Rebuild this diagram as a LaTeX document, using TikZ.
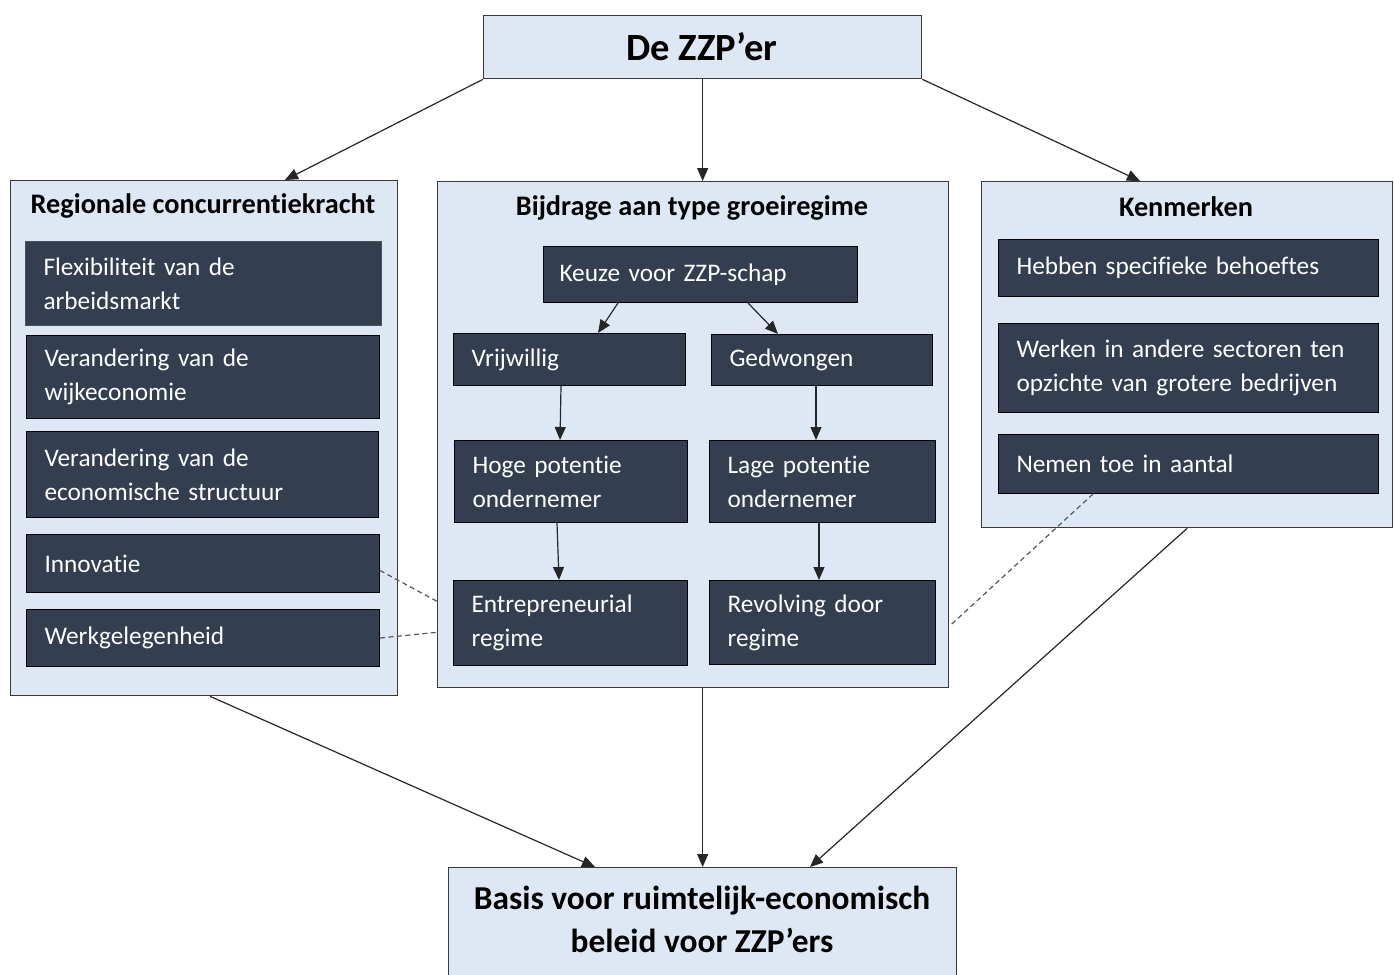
\documentclass[tikz,border=0pt]{standalone}
\usepackage{fontspec}
\setmainfont{Carlito}[Ligatures=NoCommon]
\usetikzlibrary{arrows.meta,calc}
\definecolor{lightc}{HTML}{DEE8F4}
\definecolor{darkc}{HTML}{333F50}
\definecolor{edgec}{HTML}{3A3A3A}
\definecolor{dashc}{HTML}{555555}
\begin{document}
\begin{tikzpicture}[x=1pt,y=-1pt,
 container/.style={draw=edgec, fill=lightc, line width=1.3pt, anchor=north west, inner sep=0pt},
 head/.style={font=\fontsize{28.3}{32}\selectfont\bfseries, inner sep=0pt},
 dark/.style={draw=black, fill=darkc, text=white, align=left, anchor=north west,
   inner xsep=18pt, inner ysep=0pt, line width=1pt, font=\fontsize{25.3}{34}\selectfont},
 conn/.style={draw=black!85, line width=1.2pt, -{Triangle[length=13pt,width=11pt]}},
 dconn/.style={draw=dashc, line width=1.2pt, dash pattern=on 5pt off 3.5pt}
]
\useasboundingbox (0,0) rectangle (1394,974);

% top and bottom boxes
\node[container, minimum width=438pt, minimum height=63pt] (top) at (483,15) {};
\node[font=\fontsize{38.5}{44}\selectfont\bfseries] (toptxt) at (702,47) {De ZZP’er};
\node[container, minimum width=508pt, minimum height=112pt] (bottom) at (448,867) {};
\node[align=center, font=\fontsize{33.4}{43}\selectfont\bfseries] (bottxt) at (702,919)
  {Basis voor ruimtelijk-economisch\\beleid voor ZZP’ers};

% containers
\node[container, minimum width=387pt, minimum height=515pt] (left) at (10,180) {};
\node[container, minimum width=511pt, minimum height=506pt] (mid) at (437,181) {};
\node[container, minimum width=411pt, minimum height=346pt] (right) at (981,181) {};
\node[head] (lefth) at (203,206) {Regionale concurrentiekracht};
\node[head] (midh) at (692,208) {Bijdrage aan type groeiregime};
\node[head] (righth) at (1186,207) {Kenmerken};

% left column
\node[dark, draw=darkc!90!white, text width=320pt, minimum height=84pt] (flex) at (25,241) {Flexibiliteit van de\\arbeidsmarkt};
\node[dark, text width=317pt, minimum height=83pt] (wijk) at (26,335) {Verandering van de\\wijkeconomie};
\node[dark, text width=316pt, minimum height=86pt] (econ) at (26,431) {Verandering van de\\economische structuur};
\node[dark, text width=317pt, minimum height=58pt] (innov) at (26,534) {Innovatie};
\node[dark, text width=317pt, minimum height=57pt] (werk) at (26,609) {Werkgelegenheid};

% middle column
\node[dark, inner xsep=16pt, text width=282pt, minimum height=56pt] (keuze) at (543,246) {Keuze voor ZZP-schap};
\node[dark, text width=196pt, minimum height=52pt] (vrij) at (453,333) {Vrijwillig};
\node[dark, text width=185pt, minimum height=51pt] (ged) at (711,334) {Gedwongen};
\node[dark, text width=197pt, minimum height=82pt] (hoge) at (454,440) {Hoge potentie\\ondernemer};
\node[dark, text width=190pt, minimum height=82pt] (lage) at (709,440) {Lage potentie\\ondernemer};
\node[dark, text width=198pt, minimum height=85pt] (entre) at (453,580) {Entrepreneurial\\regime};
\node[dark, text width=190pt, minimum height=84pt] (rev) at (709,580) {Revolving door\\regime};

% right column
\node[dark, text width=344pt, minimum height=57pt] (hebben) at (998,239) {Hebben specifieke behoeftes};
\node[dark, text width=344pt, minimum height=89pt] (werken) at (998,323) {Werken in andere sectoren ten\\opzichte van grotere bedrijven};
\node[dark, text width=344pt, minimum height=59pt] (nemen) at (998,434) {Nemen toe in aantal};

% connectors from top
\draw[conn] (top.south west) -- ([xshift=275pt]left.north west);
\draw[conn] (top.south) -- (top.south |- mid.north);
\draw[conn] (top.south east) -- ([xshift=159pt]right.north west);

% inner connectors
\draw[conn] ([xshift=75pt]keuze.south west) -- ([xshift=145pt]vrij.north west);
\draw[conn] ([xshift=205pt]keuze.south west) -- ([xshift=67pt]ged.north west);
\draw[conn] ([xshift=108pt]vrij.south west) -- ([xshift=106pt]hoge.north west);
\draw[conn] ([xshift=105pt]ged.south west) -- ([xshift=107pt]lage.north west);
\draw[conn] ([xshift=103pt]hoge.south west) -- ([xshift=106pt]entre.north west);
\draw[conn] ([xshift=110pt]lage.south west) -- ([xshift=110pt]rev.north west);

% dashed links
\draw[dconn] ([yshift=-7pt]innov.east) -- ([yshift=87pt]mid.south west);
\draw[dconn] (werk.east) -- ([yshift=56pt]mid.south west);
\draw[dconn] ([xshift=95pt]nemen.south west) -- ([yshift=62pt]mid.south east);

% connectors to bottom
\draw[conn] ([xshift=200pt]left.south west) -- ([xshift=147pt]bottom.north west);
\draw[conn] (bottom.north |- mid.south) -- (bottom.north);
\draw[conn] (right.south) -- ([xshift=362pt]bottom.north west);
\end{tikzpicture}
\end{document}
